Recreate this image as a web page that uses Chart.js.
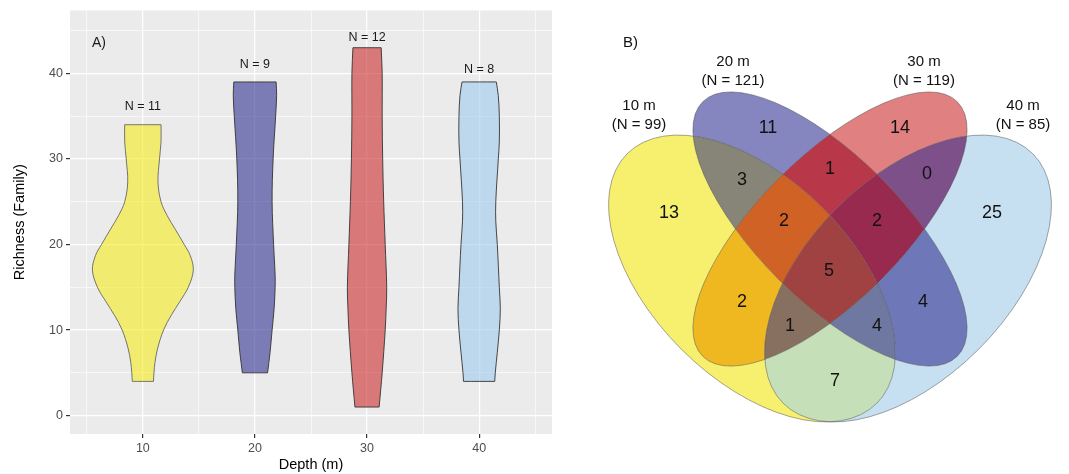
<!DOCTYPE html>
<html>
<head>
<meta charset="utf-8">
<script src="https://cdn.jsdelivr.net/npm/chart.js@4.4.1/dist/chart.umd.min.js"></script>
<style>
  body { margin: 0; background: #fff; width: 1069px; height: 474px; overflow: hidden; position: relative; }
  #violin { position: absolute; left: 0; top: 0; }
  #venn { position: absolute; left: 565px; top: 0; }
</style>
</head>
<body>
<canvas id="violin" width="565" height="474"></canvas>
<canvas id="venn" width="504" height="474"></canvas>
<script>
const FONT = '"Liberation Sans", Arial, Helvetica, sans-serif';
Chart.defaults.font.family = FONT;

// ---------- A) richness per depth (violins) ----------
const depths = [10, 20, 30, 40];
const sampleN = [11, 9, 12, 8];

// richness levels and relative violin width
const richness10 = [4, 5, 6.2, 7.8, 10, 11.7, 13.3, 15, 17, 18.7, 20, 21.8, 23.4, 25, 27.3, 30, 32, 34];
const density10 = [0.21, 0.22, 0.24, 0.29, 0.41, 0.56, 0.73, 0.9, 1.0, 0.94, 0.82, 0.64, 0.48, 0.36, 0.3, 0.33, 0.36, 0.36];
const richness20 = [5, 7.4, 10, 12.5, 15, 16.4, 20, 25, 30, 35, 37.4, 39];
const density20 = [0.25, 0.3, 0.34, 0.38, 0.4, 0.4, 0.37, 0.34, 0.36, 0.41, 0.43, 0.42];
const richness30 = [1, 5, 10, 12.7, 15, 20, 25, 30, 35, 40, 43];
const density30 = [0.24, 0.3, 0.36, 0.38, 0.39, 0.36, 0.33, 0.31, 0.3, 0.3, 0.28];
const richness40 = [4, 5, 7.4, 10, 12.5, 15, 20, 22.7, 25, 30, 32, 35, 37.4, 39];
const density40 = [0.31, 0.32, 0.36, 0.4, 0.42, 0.4, 0.36, 0.33, 0.33, 0.38, 0.4, 0.4, 0.38, 0.34];

const richnessLevels = [richness10, richness20, richness30, richness40];
const densities = [density10, density20, density30, density40];

// layout / style
const maxHalfWidth = 4.5;            // in depth units
const nLabelY = [36.1, 41.0, 44.2, 40.5];
const violinFill = ['rgba(245,237,30,0.6)', 'rgba(48,48,145,0.6)', 'rgba(203,43,43,0.6)', 'rgba(158,203,237,0.6)'];
const violinLine = ['#666666', '#333333', '#333333', '#333333'];

function violinOutline(x0, levels, dens) {
  const n = levels.length;
  const w = d => d * maxHalfWidth;
  const pts = [{x: x0, y: levels[0]}];
  // right side, bottom -> top (corners doubled to stay sharp)
  pts.push({x: x0 + w(dens[0]), y: levels[0]});
  for (let i = 0; i < n; i++) pts.push({x: x0 + w(dens[i]), y: levels[i]});
  pts.push({x: x0 + w(dens[n - 1]), y: levels[n - 1]});
  pts.push({x: x0, y: levels[n - 1]});
  // left side, top -> bottom
  pts.push({x: x0 - w(dens[n - 1]), y: levels[n - 1]});
  for (let i = n - 1; i >= 0; i--) pts.push({x: x0 - w(dens[i]), y: levels[i]});
  pts.push({x: x0 - w(dens[0]), y: levels[0]});
  pts.push({x: x0, y: levels[0]});
  return pts;
}

const violinSets = depths.map((d, i) => ({
  data: violinOutline(d, richnessLevels[i], densities[i]),
  showLine: true,
  fill: 'shape',
  tension: 0.35,
  pointRadius: 0,
  backgroundColor: violinFill[i],
  borderColor: violinLine[i],
  borderWidth: 0.9
}));

const isMajor = v => Math.abs(v % 10) < 1e-9;

const panelA = {
  id: 'panelA',
  beforeDraw(chart) {
    const {ctx, chartArea: a} = chart;
    ctx.save();
    ctx.fillStyle = '#EBEBEB';
    ctx.fillRect(a.left, a.top, a.right - a.left, a.bottom - a.top);
    ctx.restore();
  },
  afterDatasetsDraw(chart) {
    const {ctx, scales: {x, y}, chartArea: a} = chart;
    ctx.save();
    ctx.fillStyle = '#1a1a1a';
    ctx.font = '12.5px ' + FONT;
    ctx.textAlign = 'center';
    ctx.textBaseline = 'middle';
    depths.forEach((d, i) => {
      ctx.fillText('N = ' + sampleN[i], x.getPixelForValue(d), y.getPixelForValue(nLabelY[i]));
    });
    ctx.font = '14px ' + FONT;
    ctx.textAlign = 'left';
    ctx.fillText('A)', a.left + 22, a.top + 33);
    ctx.restore();
  }
};

function axisStyle(title, titlePadding, extra) {
  return Object.assign({
    type: 'linear',
    border: {display: false},
    grid: {
      color: '#FFFFFF',
      lineWidth: c => isMajor(c.tick.value) ? 1.2 : 0.6,
      tickColor: c => isMajor(c.tick.value) ? '#333333' : 'rgba(0,0,0,0)',
      tickLength: 4
    },
    ticks: {
      stepSize: 5,
      includeBounds: false,
      autoSkip: false,
      maxRotation: 0,
      padding: 3,
      color: '#4D4D4D',
      font: {size: 12.5},
      callback: v => isMajor(v) ? String(v) : ''
    },
    title: {display: true, text: title, color: '#000', font: {size: 14.5}, padding: titlePadding}
  }, extra);
}

new Chart(document.getElementById('violin'), {
  type: 'scatter',
  data: {datasets: violinSets},
  options: {
    responsive: false,
    animation: false,
    events: [],
    layout: {padding: {top: 10, right: 13, left: 0, bottom: 0}},
    plugins: {legend: {display: false}, tooltip: {enabled: false}},
    scales: {
      x: axisStyle('Depth (m)', {top: 0, bottom: 0}, {
        min: 3.5, max: 46.5,
        afterFit: s => { s.height = 40; }
      }),
      y: axisStyle('Richness (Family)', {top: 11, bottom: 0}, {
        min: -2.15, max: 47.35,
        afterFit: s => { s.width = 70; }
      })
    }
  },
  plugins: [panelA]
});

// ---------- B) shared families (4-set Venn) ----------
const vennSets = ['10 m', '20 m', '30 m', '40 m'];
const vennTotals = [99, 121, 119, 85];
// regions: which depths share the families, and how many
const regionMembers = [[0], [1], [2], [3], [0, 1], [1, 2], [2, 3], [0, 1, 2], [1, 2, 3], [0, 1, 2, 3], [0, 2], [1, 3], [0, 2, 3], [0, 1, 3], [0, 3]];
const regionCounts = [13, 11, 14, 25, 3, 1, 0, 2, 2, 5, 2, 4, 1, 4, 7];

// layout of the diagram (frame centred on the diagram, y up, px-like units)
const vennEllipses = [
  {cx: -78, cy: -28.5, a: 176.5, b: 100, angle: -45},
  {cx: 0, cy: 21, a: 180, b: 72, angle: -45},
  {cx: 0, cy: 21, a: 180, b: 72, angle: 45},
  {cx: 78, cy: -28.5, a: 176.5, b: 100, angle: 45}
];
const regionLabelPos = [
  [-161, 37], [-62, 122], [70, 122], [162, 37], [-88, 70], [0, 81], [97, 76],
  [-46, 29], [47, 29], [-1, -21], [-88, -52], [93, -52], [-40, -76], [47, -76], [5, -131]
];
const regionColors = [
  '#F7F06E', '#8585BF', '#E08080', '#C6E0F2', '#878478', '#B8384A', '#7D508A',
  '#D06226', '#982A50', '#A04242', '#F0B820', '#6E78B8', '#877060', '#6E78A0', '#C5DFB8'
];
const setLabelPos = [[-191, 144], [-97, 188], [94, 188], [193, 144]];

function ellipsePath(ctx, chart, e) {
  const {x, y} = chart.scales;
  const sx = x.getPixelForValue(1) - x.getPixelForValue(0);
  const sy = y.getPixelForValue(1) - y.getPixelForValue(0);
  ctx.save();
  ctx.translate(x.getPixelForValue(e.cx), y.getPixelForValue(e.cy));
  ctx.scale(sx, sy);
  ctx.rotate(e.angle * Math.PI / 180);
  ctx.moveTo(e.a, 0);
  ctx.ellipse(0, 0, e.a, e.b, 0, 0, 2 * Math.PI);
  ctx.restore();
}

const panelB = {
  id: 'panelB',
  beforeDatasetsDraw(chart) {
    const {ctx, chartArea: a} = chart;
    regionMembers.forEach((members, r) => {
      ctx.save();
      vennEllipses.forEach((e, k) => {
        ctx.beginPath();
        if (!members.includes(k)) ctx.rect(a.left, a.top, a.right - a.left, a.bottom - a.top);
        ellipsePath(ctx, chart, e);
        ctx.clip('evenodd');
      });
      ctx.fillStyle = regionColors[r];
      ctx.fillRect(a.left, a.top, a.right - a.left, a.bottom - a.top);
      ctx.restore();
    });
    ctx.save();
    ctx.strokeStyle = 'rgba(70,70,70,0.6)';
    ctx.lineWidth = 0.8;
    vennEllipses.forEach(e => {
      ctx.beginPath();
      ellipsePath(ctx, chart, e);
      ctx.stroke();
    });
    ctx.restore();
  },
  afterDatasetsDraw(chart) {
    const {ctx, scales: {x, y}} = chart;
    const meta = chart.getDatasetMeta(0);
    ctx.save();
    ctx.fillStyle = '#111';
    ctx.textAlign = 'center';
    ctx.textBaseline = 'middle';
    ctx.font = '18px ' + FONT;
    meta.data.forEach((pt, i) => ctx.fillText(String(regionCounts[i]), pt.x, pt.y));
    ctx.font = '15px ' + FONT;
    vennSets.forEach((s, i) => {
      const px = x.getPixelForValue(setLabelPos[i][0]);
      const py = y.getPixelForValue(setLabelPos[i][1]);
      ctx.fillText(s, px, py);
      ctx.fillText('(N = ' + vennTotals[i] + ')', px, py + 18.5);
    });
    ctx.textAlign = 'left';
    ctx.fillText('B)', x.getPixelForValue(-207), y.getPixelForValue(207));
    ctx.restore();
  }
};

new Chart(document.getElementById('venn'), {
  type: 'scatter',
  data: {
    datasets: [{
      data: regionLabelPos.map(p => ({x: p[0], y: p[1]})),
      pointRadius: 0
    }]
  },
  options: {
    responsive: false,
    animation: false,
    events: [],
    layout: {padding: 0},
    plugins: {legend: {display: false}, tooltip: {enabled: false}},
    scales: {
      x: {type: 'linear', display: false, min: -265, max: 239},
      y: {type: 'linear', display: false, min: -224, max: 250}
    }
  },
  plugins: [panelB]
});
</script>
</body>
</html>
